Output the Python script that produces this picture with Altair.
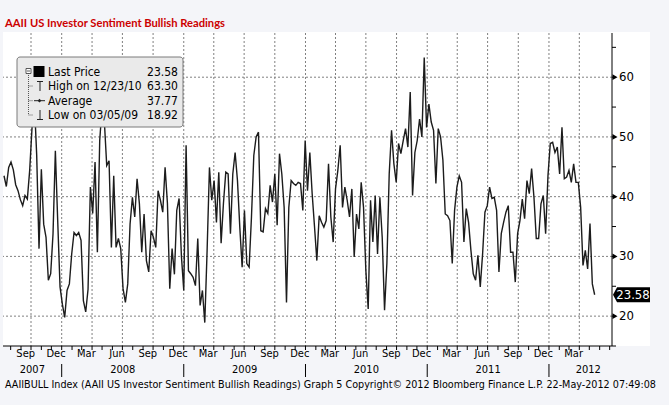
import altair as alt
import pandas as pd

# Weekly AAII bullish readings (%), oldest first; last reading is 2012-05-17
bullish = [
    43.5, 41.7, 44.9, 45.8, 44.5, 42.0, 41.0, 39.5, 38.5, 40.2,
    39.6, 44.4, 51.5, 56.0, 47.0, 31.3, 44.6, 35.4, 33.2, 26.0,
    27.1, 33.8, 47.7, 36.0, 24.9, 22.0, 19.8, 24.3, 25.4, 30.4,
    34.0, 33.5, 34.0, 32.7, 22.6, 20.7, 24.5, 41.6, 37.2, 45.8,
    30.7, 49.4, 55.0, 52.5, 45.2, 46.0, 31.5, 43.5, 31.5, 33.0,
    31.3, 24.6, 22.3, 25.4, 35.4, 39.9, 36.6, 43.0, 38.8, 30.7,
    37.1, 29.3, 27.4, 34.3, 33.2, 31.5, 41.0, 39.4, 37.4, 44.9,
    38.9, 24.6, 31.3, 27.0, 37.7, 39.7, 30.0, 24.3, 48.6, 27.6,
    27.1, 26.5, 25.1, 33.0, 21.8, 24.3, 18.92, 31.0, 44.9, 39.4,
    42.7, 35.7, 44.1, 32.2, 38.9, 44.1, 43.8, 33.8, 43.8, 47.4,
    42.7, 34.9, 28.2, 37.7, 28.8, 28.2, 36.6, 46.9, 50.0, 50.8,
    34.3, 34.1, 38.0, 37.2, 41.9, 39.1, 43.8, 35.2, 47.2, 43.8,
    38.2, 22.3, 38.2, 42.7, 42.2, 41.9, 42.4, 42.2, 37.7, 49.4,
    41.0, 47.4, 40.5, 35.0, 29.3, 36.8, 35.7, 34.9, 36.0, 45.5,
    36.6, 32.4, 41.3, 44.4, 48.6, 38.2, 41.6, 39.4, 36.6, 41.3,
    29.9, 37.1, 34.6, 42.4, 38.2, 27.6, 21.2, 39.4, 32.4, 40.2,
    30.4, 39.9, 33.2, 21.0, 28.8, 43.8, 51.1, 45.5, 42.4, 48.9,
    47.2, 49.4, 51.4, 48.3, 57.5, 40.2, 47.4, 49.4, 53.0, 50.0,
    63.3, 51.6, 55.5, 52.5, 51.1, 42.2, 51.4, 50.0, 46.1, 37.1,
    36.8, 36.0, 28.8, 37.7, 41.6, 43.5, 42.4, 32.4, 38.0, 35.7,
    31.0, 27.1, 26.0, 30.2, 24.9, 30.4, 37.4, 38.5, 41.6, 39.7,
    39.9, 37.7, 27.4, 33.8, 35.7, 37.4, 38.5, 30.7, 30.7, 25.7,
    33.8, 36.0, 39.6, 36.3, 42.7, 40.5, 44.7, 39.9, 33.0, 33.0,
    38.8, 40.2, 33.8, 43.5, 48.9, 49.1, 47.4, 48.3, 43.8, 51.6,
    43.0, 43.3, 44.4, 42.4, 45.5, 42.4, 42.4, 38.2, 28.5, 31.0,
    27.9, 35.5, 25.4, 23.58,
]
last_date = "2012-05-17"
average_value = 37.77

title_text = "AAII US Investor Sentiment Bullish Readings"
footer_text = ("AAIIBULL Index (AAII US Investor Sentiment Bullish Readings) Graph 5  "
               "Copyright\u00a9 2012 Bloomberg Finance L.P.  22-May-2012 07:49:08")
y_tick_values = [15, 20, 25, 30, 35, 40, 45, 50, 55, 60, 65]
y_label_values = [20, 30, 40, 50, 60]
years = [2007, 2008, 2009, 2010, 2011, 2012]

dates = pd.date_range(end=last_date, periods=len(bullish), freq="7D")
df = pd.DataFrame({"date": dates, "value": bullish})

hi_i = df["value"].idxmax()
lo_i = df["value"].idxmin()
last_val = df["value"].iloc[-1]

W, H = 609, 313
FONT = "DejaVu Sans Condensed, DejaVu Sans"
BLACK = "#000000"
GRID = "#808080"

dom_start = pd.Timestamp("2007-07-09")
dom_end = pd.Timestamp("2012-07-08")


def dt(ts):
    return alt.DateTime(year=ts.year, month=ts.month, date=ts.day)


x_scale = alt.Scale(domain=[dt(dom_start), dt(dom_end)])
y_scale = alt.Scale(domain=[15, 67.4], nice=False, zero=False)

month_ticks = pd.date_range("2007-08-01", "2012-07-01", freq="MS")
quarter_lines = pd.date_range("2007-10-01", "2012-04-01", freq="3MS")
label_months = pd.date_range("2007-09-01", "2012-03-01", freq="3MS") + pd.Timedelta(days=14)
year_breaks = pd.to_datetime([f"{y}-01-01" for y in years[1:]])

one = pd.DataFrame({"k": [0]})


def box(x1, x2, y1, y2, **kw):
    return alt.Chart(one).mark_rect(**kw).encode(
        x=alt.value(x1), x2=alt.value(x2), y=alt.value(y1), y2=alt.value(y2))


def seg(x1, x2, y1, y2, **kw):
    return alt.Chart(one).mark_rule(**kw).encode(
        x=alt.value(x1), x2=alt.value(x2), y=alt.value(y1), y2=alt.value(y2))


def label(txt, x, y, **kw):
    return alt.Chart(one).mark_text(**kw).encode(
        x=alt.value(x), y=alt.value(y), text=alt.value(txt))


def xt(field="date:T"):
    return alt.X(field, scale=x_scale, axis=None)


def yq(field="value:Q"):
    return alt.Y(field, scale=y_scale, axis=None)


# white panel behind the plot and the right-hand axis labels
panel = box(0, 647, -1, H, fill="white")

vgrid = alt.Chart(pd.DataFrame({"date": quarter_lines})).mark_rule(
    color=GRID, strokeDash=[2, 2], strokeWidth=1
).encode(x=xt())

hgrid = alt.Chart(pd.DataFrame({"value": y_label_values})).mark_rule(
    color=GRID, strokeDash=[2, 2], strokeWidth=1
).encode(y=yq())

line = alt.Chart(df).mark_line(color="#1c1c1c", strokeWidth=1.4).encode(
    x=xt(), y=yq())

# axis lines
x_domain = seg(0, W, H, H, color=BLACK, strokeWidth=1)
y_domain = seg(W, W, 0, H, color=BLACK, strokeWidth=1)

# monthly ticks below the time axis
x_ticks = alt.Chart(pd.DataFrame({"date": month_ticks})).mark_rule(
    color=BLACK, strokeWidth=1
).encode(x=xt(), y=alt.value(H), y2=alt.value(H + 4))

# right value axis: ticks every 5, arrow heads and labels every 10
y_ticks = alt.Chart(pd.DataFrame({"value": y_tick_values})).mark_rule(
    color=BLACK, strokeWidth=1
).encode(y=yq(), x=alt.value(W), x2=alt.value(W + 4))
arrows = alt.Chart(pd.DataFrame({"value": y_label_values})).mark_point(
    shape="triangle-right", filled=True, color=BLACK, size=34, opacity=1
).encode(x=alt.value(W + 3), y=yq())
y_labels = alt.Chart(pd.DataFrame({"value": y_label_values})).mark_text(
    font=FONT, fontSize=13, color=BLACK, align="left", baseline="middle"
).encode(x=alt.value(W + 7), y=yq(), text=alt.Text("value:Q", format="d"))

# last-value flag on the right axis
last_df = df.tail(1)
flag = alt.Chart(last_df).mark_point(
    shape="M-1,0L-0.78,-0.405L1,-0.405L1,0.405L-0.78,0.405Z",
    filled=True, color=BLACK, size=1369, opacity=1
).encode(x=alt.value(628.5), y=yq())
flag_txt = alt.Chart(last_df).mark_text(
    font=FONT, fontSize=13, color="white", align="center", baseline="middle"
).encode(x=alt.value(630), y=yq(), text=alt.Text("value:Q", format=".2f"))

# time axis labels
month_lbl = alt.Chart(pd.DataFrame({"date": label_months,
                                    "lab": label_months.strftime("%b")})).mark_text(
    font=FONT, fontSize=11, color=BLACK, baseline="middle"
).encode(x=xt(), y=alt.value(H + 8), text="lab:N")

year_mid = []
for y in years:
    a = max(pd.Timestamp(f"{y}-01-01"), dom_start)
    b = min(pd.Timestamp(f"{y + 1}-01-01"), dom_end)
    year_mid.append(a + (b - a) / 2)
year_mid[-1] = pd.Timestamp("2012-04-28")
year_lbl = alt.Chart(pd.DataFrame({"date": year_mid,
                                   "lab": [str(y) for y in years]})).mark_text(
    font=FONT, fontSize=11, color=BLACK, baseline="middle"
).encode(x=xt(), y=alt.value(H + 24), text="lab:N")

year_sep = alt.Chart(pd.DataFrame({"date": year_breaks})).mark_rule(
    color=BLACK, strokeWidth=1
).encode(x=xt(), y=alt.value(H + 18), y2=alt.value(H + 31))

footer = label(footer_text, 2, H + 39, font=FONT, fontSize=10.7, color=BLACK,
               align="left", baseline="middle")
title = label(title_text, 2, -9, font="Lato", fontSize=11.2, fontWeight="bold",
              color="#cc0000", align="left", baseline="middle")

# legend box
leg_rows = [
    ("Last Price", f"{last_val:.2f}", 38.7),
    (f"High on {df['date'][hi_i]:%m/%d/%y}", f"{df['value'][hi_i]:.2f}", 53.0),
    ("Average", f"{average_value:.2f}", 67.7),
    (f"Low on {df['date'][lo_i]:%m/%d/%y}", f"{df['value'][lo_i]:.2f}", 82.0),
]
legend = [box(14, 180, 24, 94, fill="#eaeaea", stroke="#7a7a7a", strokeWidth=1,
              cornerRadius=3)]
for name, val, yy in leg_rows:
    legend.append(label(name, 45, yy, font=FONT, fontSize=12, color=BLACK,
                        align="left", baseline="middle"))
    legend.append(label(val, 175, yy, font=FONT, fontSize=12, color=BLACK,
                        align="right", baseline="middle"))
legend += [
    # tree connector
    seg(25.5, 25.5, 40, 82, color="#555", strokeDash=[1, 1]),
    seg(25.5, 30, 53, 53, color="#555", strokeDash=[1, 1]),
    seg(25.5, 30, 67.7, 67.7, color="#555", strokeDash=[1, 1]),
    seg(25.5, 30, 82, 82, color="#555", strokeDash=[1, 1]),
    box(23, 28, 35.5, 40.5, fill="white", stroke="#333", strokeWidth=0.8),
    seg(24, 27, 38, 38, color="#333", strokeWidth=0.8),
    # last price swatch
    box(30.5, 41.5, 33, 44, fill=BLACK),
    # high glyph
    seg(34, 40, 48.5, 48.5, color="#222", strokeWidth=1),
    seg(37, 37, 48.5, 58, color="#222", strokeWidth=1),
    # average glyph
    seg(31, 42, 67.7, 67.7, color="#222", strokeWidth=1),
    alt.Chart(one).mark_point(shape="diamond", filled=True, color="#222", size=14,
                              opacity=1).encode(x=alt.value(36.5), y=alt.value(67.7)),
    # low glyph
    seg(37, 37, 77, 86.5, color="#222", strokeWidth=1),
    seg(34, 40, 86.5, 86.5, color="#222", strokeWidth=1),
]

chart = alt.layer(
    panel, vgrid, hgrid, line, x_domain, y_domain, x_ticks, y_ticks, arrows,
    y_labels, flag, flag_txt, month_lbl, year_lbl, year_sep, footer, title, *legend
).properties(
    width=W, height=H,
    autosize=alt.AutoSizeParams(type="none"),
    padding={"left": 3, "top": 33, "right": 57, "bottom": 59},
    background="#f4f5f9",
).configure_view(stroke=None, fill=None)

chart.save("out.html", embed_options={"renderer": "svg", "actions": False})
